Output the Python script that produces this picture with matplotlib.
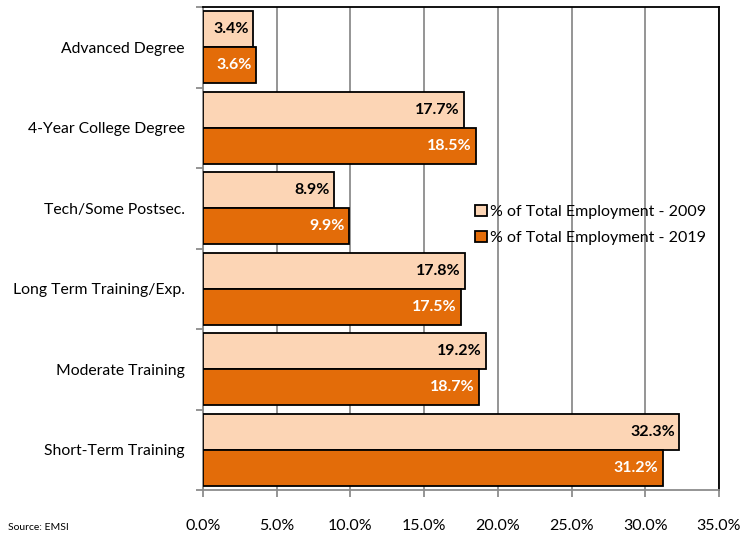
import numpy as np
import matplotlib.pyplot as plt
from matplotlib.ticker import FixedLocator, NullFormatter, PercentFormatter

plt.rcParams['font.family'] = ['Lato', 'DejaVu Sans']

# data
categories = ['Advanced Degree', '4-Year College Degree', 'Tech/Some Postsec.',
              'Long Term Training/Exp.', 'Moderate Training', 'Short-Term Training']
emp_2009 = [3.4, 17.7, 8.9, 17.8, 19.2, 32.3]
emp_2019 = [3.6, 18.5, 9.9, 17.5, 18.7, 31.2]
series_labels = ['% of Total Employment - 2009', '% of Total Employment - 2019']

c09 = '#FCD5B5'
c19 = '#E36C09'

fig = plt.figure(figsize=(7.45, 5.38), dpi=100)
ax = fig.add_axes([203 / 745, 1 - 490 / 538, 516 / 745, 483 / 538])

n = len(categories)
y = np.arange(n)
h = 0.445

b1 = ax.barh(y - h / 2, emp_2009, height=h, color=c09, edgecolor='black',
             linewidth=1.3, label=series_labels[0], zorder=3)
b2 = ax.barh(y + h / 2, emp_2019, height=h, color=c19, edgecolor='black',
             linewidth=1.3, label=series_labels[1], zorder=3)

for bars, col in [(b1, 'black'), (b2, 'white')]:
    for r in bars:
        v = r.get_width()
        ax.text(v - 0.3, r.get_y() + r.get_height() / 2, f'{v:.1f}%',
                ha='right', va='center', fontsize=11.5, fontweight='bold',
                color=col, zorder=4)

ax.set_xlim(0, 35)
ax.set_ylim(n - 0.5, -0.5)
ax.xaxis.set_major_locator(FixedLocator(np.arange(0, 36, 5)))
ax.xaxis.set_major_formatter(PercentFormatter(decimals=1))
ax.grid(axis='x', color='#8c8c8c', linewidth=1.3, zorder=0)

# category labels between boundary ticks
ax.set_yticks(y)
ax.set_yticklabels(categories, fontsize=11.3)
ax.tick_params(axis='y', length=0, pad=13)
ax.yaxis.set_minor_locator(FixedLocator(np.arange(-0.5, n, 1)))
ax.yaxis.set_minor_formatter(NullFormatter())
ax.tick_params(axis='y', which='minor', length=5, color='#8c8c8c', width=1.3)
ax.tick_params(axis='x', length=5, color='#8c8c8c', width=1.3, labelsize=11.5, pad=16)

for s in ['top', 'right']:
    ax.spines[s].set_color('black')
    ax.spines[s].set_linewidth(1.3)
for s in ['left', 'bottom']:
    ax.spines[s].set_color('#8c8c8c')
    ax.spines[s].set_linewidth(1.3)

leg = ax.legend(loc='upper left', bbox_to_anchor=(0.5, 0.62), frameon=False,
                fontsize=11.5, handlelength=0.7, handleheight=0.7,
                handletextpad=0.2, labelspacing=0.75)

fig.text(8 / 745, 1 - 528 / 538, 'Source: EMSI', fontsize=7.5, va='center')

fig.savefig('out.png', dpi=100)
